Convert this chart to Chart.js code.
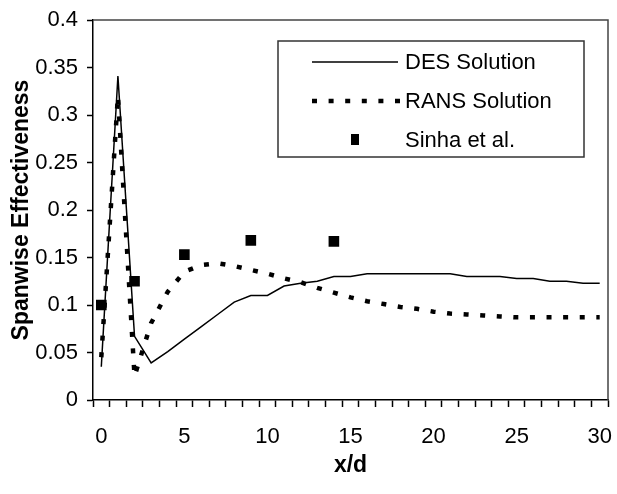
<!DOCTYPE html>
<html><head><meta charset="utf-8">
<script src="https://cdn.jsdelivr.net/npm/chart.js@4.4.0/dist/chart.umd.min.js"></script>
<style>html,body{margin:0;padding:0;background:#fff;}#wrap{width:617px;height:494px;}</style>
</head><body><div id="wrap"><canvas id="c" width="617" height="494"></canvas></div>
<script>
const categories = ['0','1','2','3','4','5','6','7','8','9','10','11','12','13','14','15','16','17','18','19','20','21','22','23','24','25','26','27','28','29','30'];
const xTickLabels = ['0','5','10','15','20','25','30'];
const yTickLabels = ['0','0.05','0.1','0.15','0.2','0.25','0.3','0.35','0.4'];
const desValues = [0.035,0.341,0.067,0.039,0.051,0.064,0.077,0.090,0.103,0.110,0.110,0.120,0.123,0.125,0.130,0.130,0.133,0.133,0.133,0.133,0.133,0.133,0.130,0.130,0.130,0.128,0.128,0.125,0.125,0.123,0.123];
const ransValues = [0.045,0.320,0.025,0.081,0.114,0.135,0.142,0.144,0.141,0.137,0.133,0.128,0.124,0.118,0.113,0.108,0.104,0.101,0.098,0.096,0.093,0.091,0.090,0.089,0.088,0.087,0.087,0.087,0.087,0.087,0.087];
const sinhaValues = [0.100,null,0.125,null,null,0.153,null,null,null,0.168,null,null,null,null,0.167,null,null,null,null,null,null,null,null,null,null,null,null,null,null,null,null];
const seriesNames = ['DES Solution','RANS Solution','Sinha et al.'];

const FONT = "'Liberation Sans', Arial, sans-serif";

const framePlugin = {
  id: 'frame',
  afterDraw(chart) {
    const {ctx, chartArea: a} = chart;
    ctx.save();
    ctx.strokeStyle = '#444';
    ctx.lineWidth = 1.5;
    ctx.beginPath();
    ctx.moveTo(a.left, a.top);
    ctx.lineTo(a.right, a.top);
    ctx.lineTo(a.right, a.bottom);
    ctx.stroke();
    // legend box
    const bx = a.left + 185, by = a.top + 21, bw = 306, bh = 116;
    ctx.fillStyle = '#fff';
    ctx.fillRect(bx, by, bw, bh);
    ctx.strokeStyle = '#333';
    ctx.lineWidth = 1.5;
    ctx.strokeRect(bx, by, bw, bh);
    const sx0 = bx + 34, sx1 = bx + 120, tx = bx + 127;
    const rows = [by + 21, by + 60, by + 99];
    ctx.strokeStyle = '#000';
    ctx.lineWidth = 1.5;
    ctx.setLineDash([]);
    ctx.beginPath(); ctx.moveTo(sx0, rows[0]); ctx.lineTo(sx1, rows[0]); ctx.stroke();
    ctx.lineWidth = 4.5;
    ctx.setLineDash([5, 11.6]);
    ctx.beginPath(); ctx.moveTo(sx0, rows[1]); ctx.lineTo(sx1 + 2, rows[1]); ctx.stroke();
    ctx.setLineDash([]);
    ctx.fillStyle = '#000';
    ctx.fillRect((sx0 + sx1) / 2 - 4, rows[2] - 6, 8, 11);
    ctx.font = '22px ' + FONT;
    ctx.textBaseline = 'middle';
    ctx.textAlign = 'left';
    ctx.fillStyle = '#000';
    seriesNames.forEach((n, i) => ctx.fillText(n, tx, rows[i] + 1));
    ctx.restore();
  }
};

new Chart(document.getElementById('c'), {
  type: 'line',
  data: {
    labels: categories,
    datasets: [
      {label: seriesNames[0], data: desValues, borderColor: '#000', borderWidth: 1.5, pointRadius: 0, tension: 0, fill: false},
      {label: seriesNames[1], data: ransValues, borderColor: '#000', borderWidth: 4.5, borderDash: [5, 11.6], borderCapStyle: 'butt', pointRadius: 0, tension: 0, fill: false},
      {label: seriesNames[2], data: sinhaValues, showLine: false, pointStyle: 'rect', pointRadius: 7.5, pointBackgroundColor: '#000', pointBorderColor: '#000', pointBorderWidth: 0}
    ]
  },
  options: {
    responsive: false,
    animation: false,
    devicePixelRatio: 1,
    layout: {padding: {top: 20, right: 9, left: 0, bottom: 0}},
    plugins: {legend: {display: false}, tooltip: {enabled: false}},
    scales: {
      x: {
        type: 'category',
        offset: true,
        grid: {offset: true, drawOnChartArea: false, drawTicks: true, tickLength: 7, tickColor: '#000', tickWidth: 1.5},
        border: {display: true, color: '#000', width: 1.5},
        ticks: {autoSkip: false, maxRotation: 0, minRotation: 0, padding: 17, color: '#000', font: {family: FONT, size: 22},
          callback: function(v, i) { const l = categories[i]; return xTickLabels.includes(l) ? l : ''; }},
        title: {display: true, text: 'x/d', color: '#000', font: {family: FONT, size: 23, weight: 'bold'}, padding: {top: 0, bottom: 15}},
        afterFit: s => { s.height = 94; s.paddingLeft = 0; s.paddingRight = 0; }
      },
      y: {
        min: 0, max: 0.4,
        grid: {drawOnChartArea: false, drawTicks: true, tickLength: 6, tickColor: '#000', tickWidth: 1.5},
        border: {display: true, color: '#000', width: 1.5},
        ticks: {stepSize: 0.05, padding: 9, color: '#000', font: {family: FONT, size: 22},
          callback: function(v, i) { return yTickLabels[i]; }},
        title: {display: true, text: 'Spanwise Effectiveness', color: '#000', font: {family: FONT, size: 23, weight: 'bold'}, padding: {top: 8, bottom: 0}},
        afterFit: s => { s.width = 93; s.paddingTop = 0; s.paddingBottom = 0; }
      }
    }
  },
  plugins: [framePlugin]
});
</script>
</body></html>
